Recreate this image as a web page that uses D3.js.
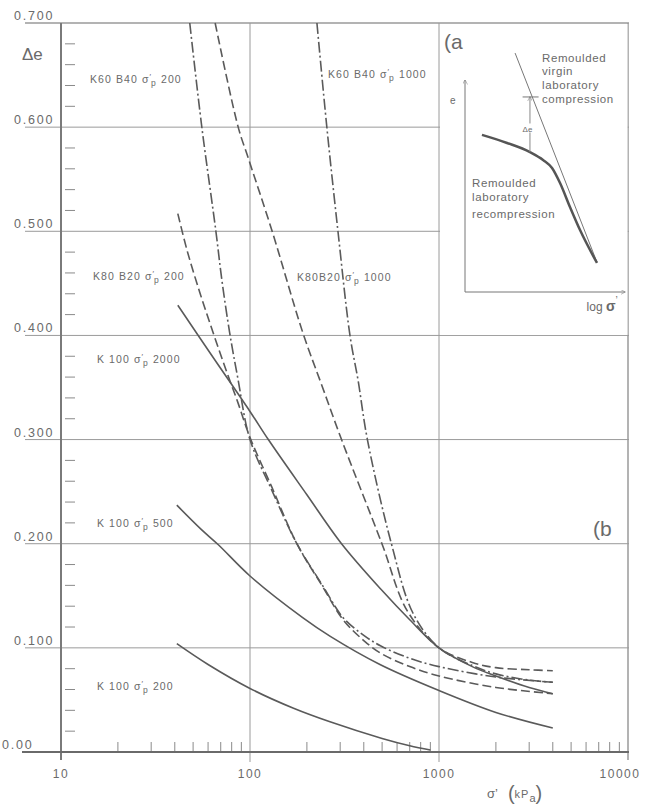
<!DOCTYPE html>
<html>
<head>
<meta charset="utf-8">
<script src="https://cdn.jsdelivr.net/npm/d3@7"></script>
<style>
  body { margin: 0; background: #fff; }
  text { font-family: "Liberation Sans", Arial, sans-serif; fill: #6a6a6a; }
</style>
</head>
<body>
<script>
// data: [sigma' (kPa), delta e]
var k100_200 = [[41,0.104],[60,0.084],[100,0.061],[170,0.042],[265,0.029],[500,0.013],[700,0.006],[900,0.002]]
var k100_500 = [[41,0.237],[55,0.214],[68,0.199],[100,0.169],[190,0.129],[266,0.111],[487,0.084],[1000,0.059],[2000,0.038],[4000,0.023]]
var k100_2000 = [[41.5,0.429],[60,0.386],[100,0.327],[125,0.300],[200,0.247],[305,0.200],[500,0.155],[700,0.127],[1000,0.100],[1500,0.082],[2000,0.073],[3000,0.062],[4000,0.056]]
var k80b20_200 = [[41.5,0.517],[46.4,0.482],[54.3,0.441],[63.7,0.403],[74.6,0.367],[86.5,0.335],[100,0.302],[130,0.255],[177,0.200],[240,0.160],[311,0.127],[400,0.107],[490,0.095],[700,0.082],[1000,0.073],[2000,0.062],[4000,0.056]]
var k60b40_200 = [[48,0.700],[55.6,0.600],[66,0.500],[71,0.453],[78,0.403],[86,0.360],[100,0.300],[130,0.252],[177,0.200],[240,0.161],[311,0.129],[400,0.112],[490,0.102],[700,0.090],[1000,0.082],[2000,0.072],[4000,0.067]]
var k80b20_1000 = [[65.4,0.700],[86.6,0.600],[97.6,0.571],[131,0.500],[190,0.403],[240,0.352],[305,0.300],[499,0.200],[677,0.136],[1000,0.100],[1500,0.086],[2000,0.081],[3000,0.079],[4000,0.078]]
var k60b40_1000 = [[226,0.700],[255,0.600],[292,0.500],[338,0.400],[373,0.357],[418,0.300],[560,0.200],[730,0.133],[1000,0.100],[1500,0.083],[2000,0.075],[3000,0.069],[4000,0.067]]

var yTicks = [0, 0.1, 0.2, 0.3, 0.4, 0.5, 0.6, 0.7]
var yTickLabels = ['0.00', '0.100', '0.200', '0.300', '0.400', '0.500', '0.600', '0.700']
var xTicks = [10, 100, 1000, 10000]

// schematic inset (a), in arbitrary units 0..10
var insetRecompression = [[1.06,7.41],[2.63,7.03],[4.06,6.6],[4.88,6.23],[5.44,5.85],[5.94,5.14],[6.56,4.01],[7.19,2.92],[8.25,1.37]]
var insetVirgin = [[3.13,11.27],[8.25,1.4]]

var svg = d3.select('body').append('svg')
  .attr('width', 647)
  .attr('height', 812)

var x = d3.scaleLog().domain([10, 10000]).range([61, 628])
var y = d3.scaleLinear().domain([0, 0.7]).range([752, 23])

var grid = '#9a9a9a'
var ink = '#5a5a5a'

// horizontal grid lines
svg.selectAll('.hgrid')
  .data(yTicks.filter(d => d > 0))
  .enter().append('line')
  .attr('x1', 25).attr('x2', x(10000) + 1)
  .attr('y1', d => y(d)).attr('y2', d => y(d))
  .attr('stroke', grid).attr('stroke-width', 1)

// vertical grid lines
svg.selectAll('.vgrid')
  .data([100, 1000, 10000])
  .enter().append('line')
  .attr('x1', d => x(d)).attr('x2', d => x(d))
  .attr('y1', y(0.7)).attr('y2', d => d == 10000 ? 760 : 762)
  .attr('stroke', grid).attr('stroke-width', d => d == 10000 ? 1.5 : 1)

// inset panel blanks out the grid
svg.append('rect')
  .attr('x', x(1000) + 1).attr('y', y(0.7) + 1)
  .attr('width', x(10000) - x(1000) - 1.5)
  .attr('height', y(0.4) - y(0.7) - 1.5)
  .attr('fill', '#fff')

// minor y ticks
var minorY = d3.range(1, 35).map(i => i * 0.02).filter(d => Math.abs(d * 10 - Math.round(d * 10)) > 1e-6)
svg.selectAll('.ytick')
  .data(minorY)
  .enter().append('line')
  .attr('x1', 65).attr('x2', 75)
  .attr('y1', d => y(d)).attr('y2', d => y(d))
  .attr('stroke', '#8a8a8a')

// minor x ticks
var minorX = []
;[10, 100, 1000].forEach(function(dec) {
  for (var m = 2; m <= 9; m++) minorX.push(dec * m)
})
svg.selectAll('.xtick')
  .data(minorX)
  .enter().append('line')
  .attr('x1', d => x(d)).attr('x2', d => x(d))
  .attr('y1', 742).attr('y2', 752)
  .attr('stroke', '#8a8a8a')

// axes frame
svg.append('line').attr('x1', 25).attr('x2', x(10000) + 1).attr('y1', y(0.7)).attr('y2', y(0.7))
  .attr('stroke', grid).attr('stroke-width', 1.2)
svg.append('line').attr('x1', x(10)).attr('x2', x(10)).attr('y1', y(0.7)).attr('y2', 760)
  .attr('stroke', '#7a7a7a').attr('stroke-width', 2)
svg.append('line').attr('x1', 22).attr('x2', x(10000) + 1).attr('y1', y(0)).attr('y2', y(0))
  .attr('stroke', '#6a6a6a').attr('stroke-width', 2)

// y tick labels
svg.selectAll('.ylab')
  .data(yTicks)
  .enter().append('text')
  .attr('x', (d, i) => i == 0 ? 2 : 14)
  .attr('y', d => y(d) - 3)
  .attr('font-size', 12.5)
  .attr('letter-spacing', 1.8)
  .text((d, i) => yTickLabels[i])

// x tick labels
svg.selectAll('.xlab')
  .data(xTicks)
  .enter().append('text')
  .attr('x', d => d == 10000 ? x(d) - 8 : x(d))
  .attr('y', 778)
  .attr('text-anchor', 'middle')
  .attr('font-size', 12)
  .attr('letter-spacing', 1.5)
  .text(d => d)

svg.append('text').attr('x', 22).attr('y', 60).attr('font-size', 17).text('Δe')

var xt = svg.append('text').attr('x', 487).attr('y', 798).attr('font-size', 13)
xt.append('tspan').text('σ’')
xt.append('tspan').attr('dx', 10).attr('font-size', 20).attr('dy', 2).text('(')
xt.append('tspan').attr('font-size', 11).attr('dy', -2).attr('letter-spacing', 1).text('kP')
xt.append('tspan').attr('font-size', 11).attr('dy', 4).text('a')
xt.append('tspan').attr('font-size', 20).attr('dy', -2).text(')')

// curves
var line = d3.line()
  .x(d => x(d[0]))
  .y(d => y(d[1]))
  .curve(d3.curveCatmullRom.alpha(0.5))

var series = [
  { data: k100_200, dash: null },
  { data: k100_500, dash: null },
  { data: k100_2000, dash: null },
  { data: k80b20_200, dash: '9,4' },
  { data: k80b20_1000, dash: '9,4' },
  { data: k60b40_200, dash: '11,3,2,3' },
  { data: k60b40_1000, dash: '11,3,2,3' }
]

svg.selectAll('.curve')
  .data(series)
  .enter().append('path')
  .attr('d', d => line(d.data))
  .attr('fill', 'none')
  .attr('stroke', ink)
  .attr('stroke-width', 1.6)
  .attr('stroke-dasharray', d => d.dash)

// curve labels: sigma'_p written as sigma, raised prime, lowered p
function curveLabel(px, py, prefix, val) {
  var t = svg.append('text').attr('x', px).attr('y', py).attr('font-size', 10.5).attr('letter-spacing', 1.1)
  t.append('tspan').text(prefix + ' σ')
  t.append('tspan').attr('font-size', 8).attr('dy', -4).attr('letter-spacing', 0).text('′')
  t.append('tspan').attr('font-size', 8.5).attr('dy', 7).text('p')
  t.append('tspan').attr('dy', -3).text(' ' + val)
}
curveLabel(90, 83, 'K60 B40', 200)
curveLabel(328, 78, 'K60 B40', 1000)
curveLabel(93, 280, 'K80 B20', 200)
curveLabel(297, 281, 'K80B20', 1000)
curveLabel(97, 363, 'K 100', 2000)
curveLabel(97, 527, 'K 100', 500)
curveLabel(97, 690, 'K 100', 200)

svg.append('text').attr('x', 593).attr('y', 536).attr('font-size', 21).text('(b')

// inset (a)
var ix = d3.scaleLinear().domain([0, 10]).range([465, 625])
var iy = d3.scaleLinear().domain([0, 10]).range([292, 80])
var inset = svg.append('g')

inset.append('text').attr('x', 444).attr('y', 49).attr('font-size', 21).text('(a')

inset.append('defs').append('marker')
  .attr('id', 'arr').attr('viewBox', '0 0 10 10').attr('refX', 9).attr('refY', 5)
  .attr('markerWidth', 5).attr('markerHeight', 5).attr('orient', 'auto')
  .append('path').attr('d', 'M0,0L10,5L0,10').attr('fill', 'none').attr('stroke', '#777')

inset.append('line').attr('x1', ix(0)).attr('x2', ix(0)).attr('y1', iy(0)).attr('y2', iy(10))
  .attr('stroke', '#777').attr('marker-end', 'url(#arr)')
inset.append('line').attr('x1', ix(0)).attr('x2', ix(10)).attr('y1', iy(0)).attr('y2', iy(0))
  .attr('stroke', '#777').attr('marker-end', 'url(#arr)')

inset.append('path')
  .attr('d', d3.line().x(d => ix(d[0])).y(d => iy(d[1]))(insetVirgin))
  .attr('stroke', '#777').attr('stroke-width', 1).attr('fill', 'none')
inset.append('path')
  .attr('d', d3.line().x(d => ix(d[0])).y(d => iy(d[1])).curve(d3.curveMonotoneX)(insetRecompression))
  .attr('stroke', '#555').attr('stroke-width', 2.5).attr('fill', 'none')

// delta e marker
inset.append('line').attr('x1', ix(4.06)).attr('x2', ix(4.06)).attr('y1', iy(6.6)).attr('y2', iy(9.2))
  .attr('stroke', '#888').attr('stroke-width', 1).attr('marker-end', 'url(#arr)')
inset.append('line').attr('x1', ix(3.6)).attr('x2', ix(4.6)).attr('y1', iy(9.2)).attr('y2', iy(9.2))
  .attr('stroke', '#777')
inset.append('rect').attr('x', ix(3.5)).attr('y', iy(7.95)).attr('width', 16).attr('height', 9).attr('fill', '#fff')
inset.append('text').attr('x', ix(3.6)).attr('y', iy(7.55)).attr('font-size', 8).text('Δe')

inset.append('text').attr('x', ix(-0.94)).attr('y', iy(8.85)).attr('font-size', 10).text('e')
var lg = inset.append('text').attr('x', ix(7.6)).attr('y', 311).attr('font-size', 12)
lg.append('tspan').text('log ')
lg.append('tspan').attr('font-size', 14).attr('font-weight', 'bold').text('σ')
lg.append('tspan').attr('font-size', 10).attr('dy', -7).text('’')

var virginText = ['Remoulded', 'virgin', 'laboratory', 'compression']
inset.selectAll('.vt')
  .data(virginText)
  .enter().append('text')
  .attr('x', 542)
  .attr('y', (d, i) => [62, 75, 89, 103][i])
  .attr('font-size', 11.5)
  .attr('letter-spacing', 0.6)
  .text(d => d)

var recompText = ['Remoulded', 'laboratory', 'recompression']
inset.selectAll('.rt')
  .data(recompText)
  .enter().append('text')
  .attr('x', 472)
  .attr('y', (d, i) => [187, 201, 218][i])
  .attr('font-size', 11.5)
  .attr('letter-spacing', 0.6)
  .text(d => d)
</script>
</body>
</html>
